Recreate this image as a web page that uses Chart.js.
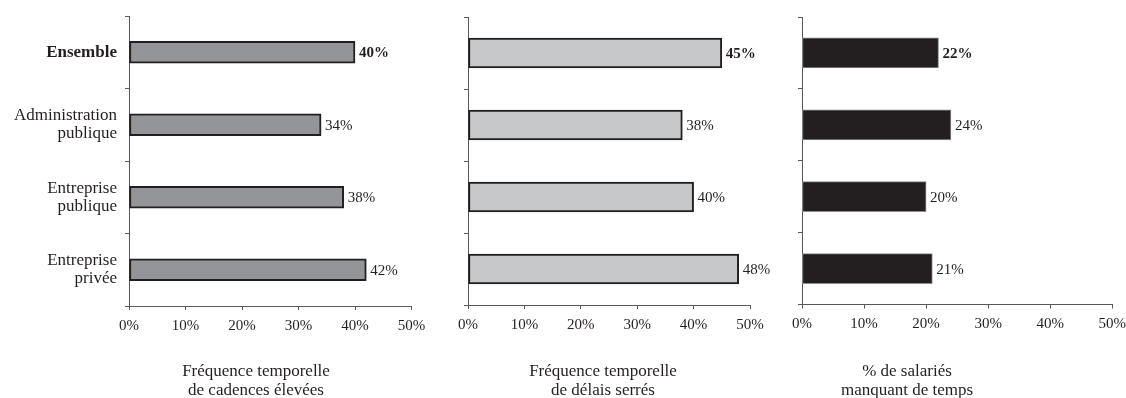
<!DOCTYPE html>
<html lang="fr">
<head>
<meta charset="utf-8">
<title>Contraintes de rythme selon le secteur</title>
<script src="https://cdn.jsdelivr.net/npm/chart.js@4.4.1/dist/chart.umd.min.js"></script>
<style>
  html, body { margin: 0; padding: 0; background: #ffffff; overflow: hidden; }
  #wrap { position: relative; width: 1126px; height: 398px; }
  canvas { position: absolute; top: 0; }
</style>
</head>
<body>
<div id="wrap">
  <canvas id="p1" width="440" height="398" style="left:0px"></canvas>
  <canvas id="p2" width="330" height="398" style="left:440px"></canvas>
  <canvas id="p3" width="356" height="398" style="left:770px"></canvas>
</div>
<script>
// Sectors (rows), shared by the three panels
const categories = ['Ensemble', ['Administration', 'publique'], ['Entreprise', 'publique'], ['Entreprise', 'privée']];

// Percentages per sector
const cadencesElevees = [40, 34, 38, 42];
const delaisSerres = [45, 38, 40, 48];
const manqueDeTemps = [22, 24, 20, 21];

// Horizontal axis range and step (percent)
const axisMin = 0;
const axisMax = 50;
const axisStep = 10;

// Panel captions, drawn under each axis
const captionCadences = ['Fréquence temporelle', 'de cadences élevées'];
const captionDelais = ['Fréquence temporelle', 'de délais serrés'];
const captionManque = ['% de salariés', 'manquant de temps'];

const FONT = '"Liberation Serif", "Times New Roman", serif';
const INK = '#231f20';
const AXIS = '#58595b';

// Percentage written just after the end of each bar (first row in bold)
const valueLabels = {
  id: 'valueLabels',
  afterDatasetsDraw(chart) {
    const ctx = chart.ctx;
    const ds = chart.data.datasets[0];
    const meta = chart.getDatasetMeta(0);
    ctx.save();
    ctx.fillStyle = INK;
    ctx.textAlign = 'left';
    ctx.textBaseline = 'middle';
    meta.data.forEach((bar, i) => {
      ctx.font = (i === 0 ? 'bold ' : '') + '15px ' + FONT;
      ctx.fillText(ds.data[i] + '%', bar.x + 4, bar.y + 1);
    });
    ctx.restore();
  }
};

// Two-line caption below the percentage axis
const caption = {
  id: 'caption',
  afterDraw(chart, args, opts) {
    const ctx = chart.ctx;
    ctx.save();
    ctx.fillStyle = INK;
    ctx.font = '17px ' + FONT;
    ctx.textAlign = 'center';
    ctx.textBaseline = 'alphabetic';
    opts.lines.forEach((t, i) => ctx.fillText(t, opts.x, opts.y + i * 18.5));
    ctx.restore();
  }
};

function makePanel(id, values, fill, border, borderWidth, thickness, showLabels, yWidth, xHeight, pad, cap) {
  return new Chart(document.getElementById(id), {
    type: 'bar',
    data: {
      labels: categories,
      datasets: [{
        data: values,
        backgroundColor: fill,
        borderColor: border,
        borderWidth: borderWidth,
        borderSkipped: false,
        barThickness: thickness
      }]
    },
    options: {
      indexAxis: 'y',
      responsive: false,
      animation: false,
      events: [],
      layout: { padding: pad },
      plugins: {
        legend: { display: false },
        tooltip: { enabled: false },
        caption: cap
      },
      scales: {
        x: {
          min: axisMin,
          max: axisMax,
          afterFit(scale) {
            scale.height = xHeight;
            scale.paddingLeft = 0;
            scale.paddingRight = 0;
          },
          border: { display: true, color: AXIS, width: 1 },
          grid: { drawOnChartArea: false, drawTicks: true, tickLength: 4, color: AXIS },
          ticks: {
            stepSize: axisStep,
            padding: 7,
            color: INK,
            font: { family: FONT, size: 15 },
            maxRotation: 0,
            callback: v => v + '%'
          }
        },
        y: {
          afterFit(scale) {
            scale.width = yWidth;
            scale.paddingTop = 0;
            scale.paddingBottom = 0;
          },
          border: { display: true, color: AXIS, width: 1 },
          grid: { offset: true, drawOnChartArea: false, drawTicks: true, tickLength: 4, color: AXIS },
          ticks: {
            display: showLabels,
            padding: 8,
            color: INK,
            font: ctx => ({ family: FONT, size: 17, lineHeight: 1.05, weight: ctx.index === 0 ? 'bold' : 'normal' })
          }
        }
      }
    },
    plugins: [valueLabels, caption]
  });
}

makePanel('p1', cadencesElevees, '#939598', INK, 2, 22, true, 129, 92,
  { left: 0, top: 16, right: 28.5, bottom: 0 },
  { lines: captionCadences, x: 256, y: 376 });

makePanel('p2', delaisSerres, '#c7c8ca', INK, 2, 30, false, 28, 93,
  { left: 0, top: 17, right: 20, bottom: 0 },
  { lines: captionDelais, x: 163, y: 376 });

makePanel('p3', manqueDeTemps, '#231f20', '#8c8c8c', 1, 30, false, 32, 93.5,
  { left: 0, top: 17, right: 13.7, bottom: 0 },
  { lines: captionManque, x: 137, y: 376 });
</script>
</body>
</html>
